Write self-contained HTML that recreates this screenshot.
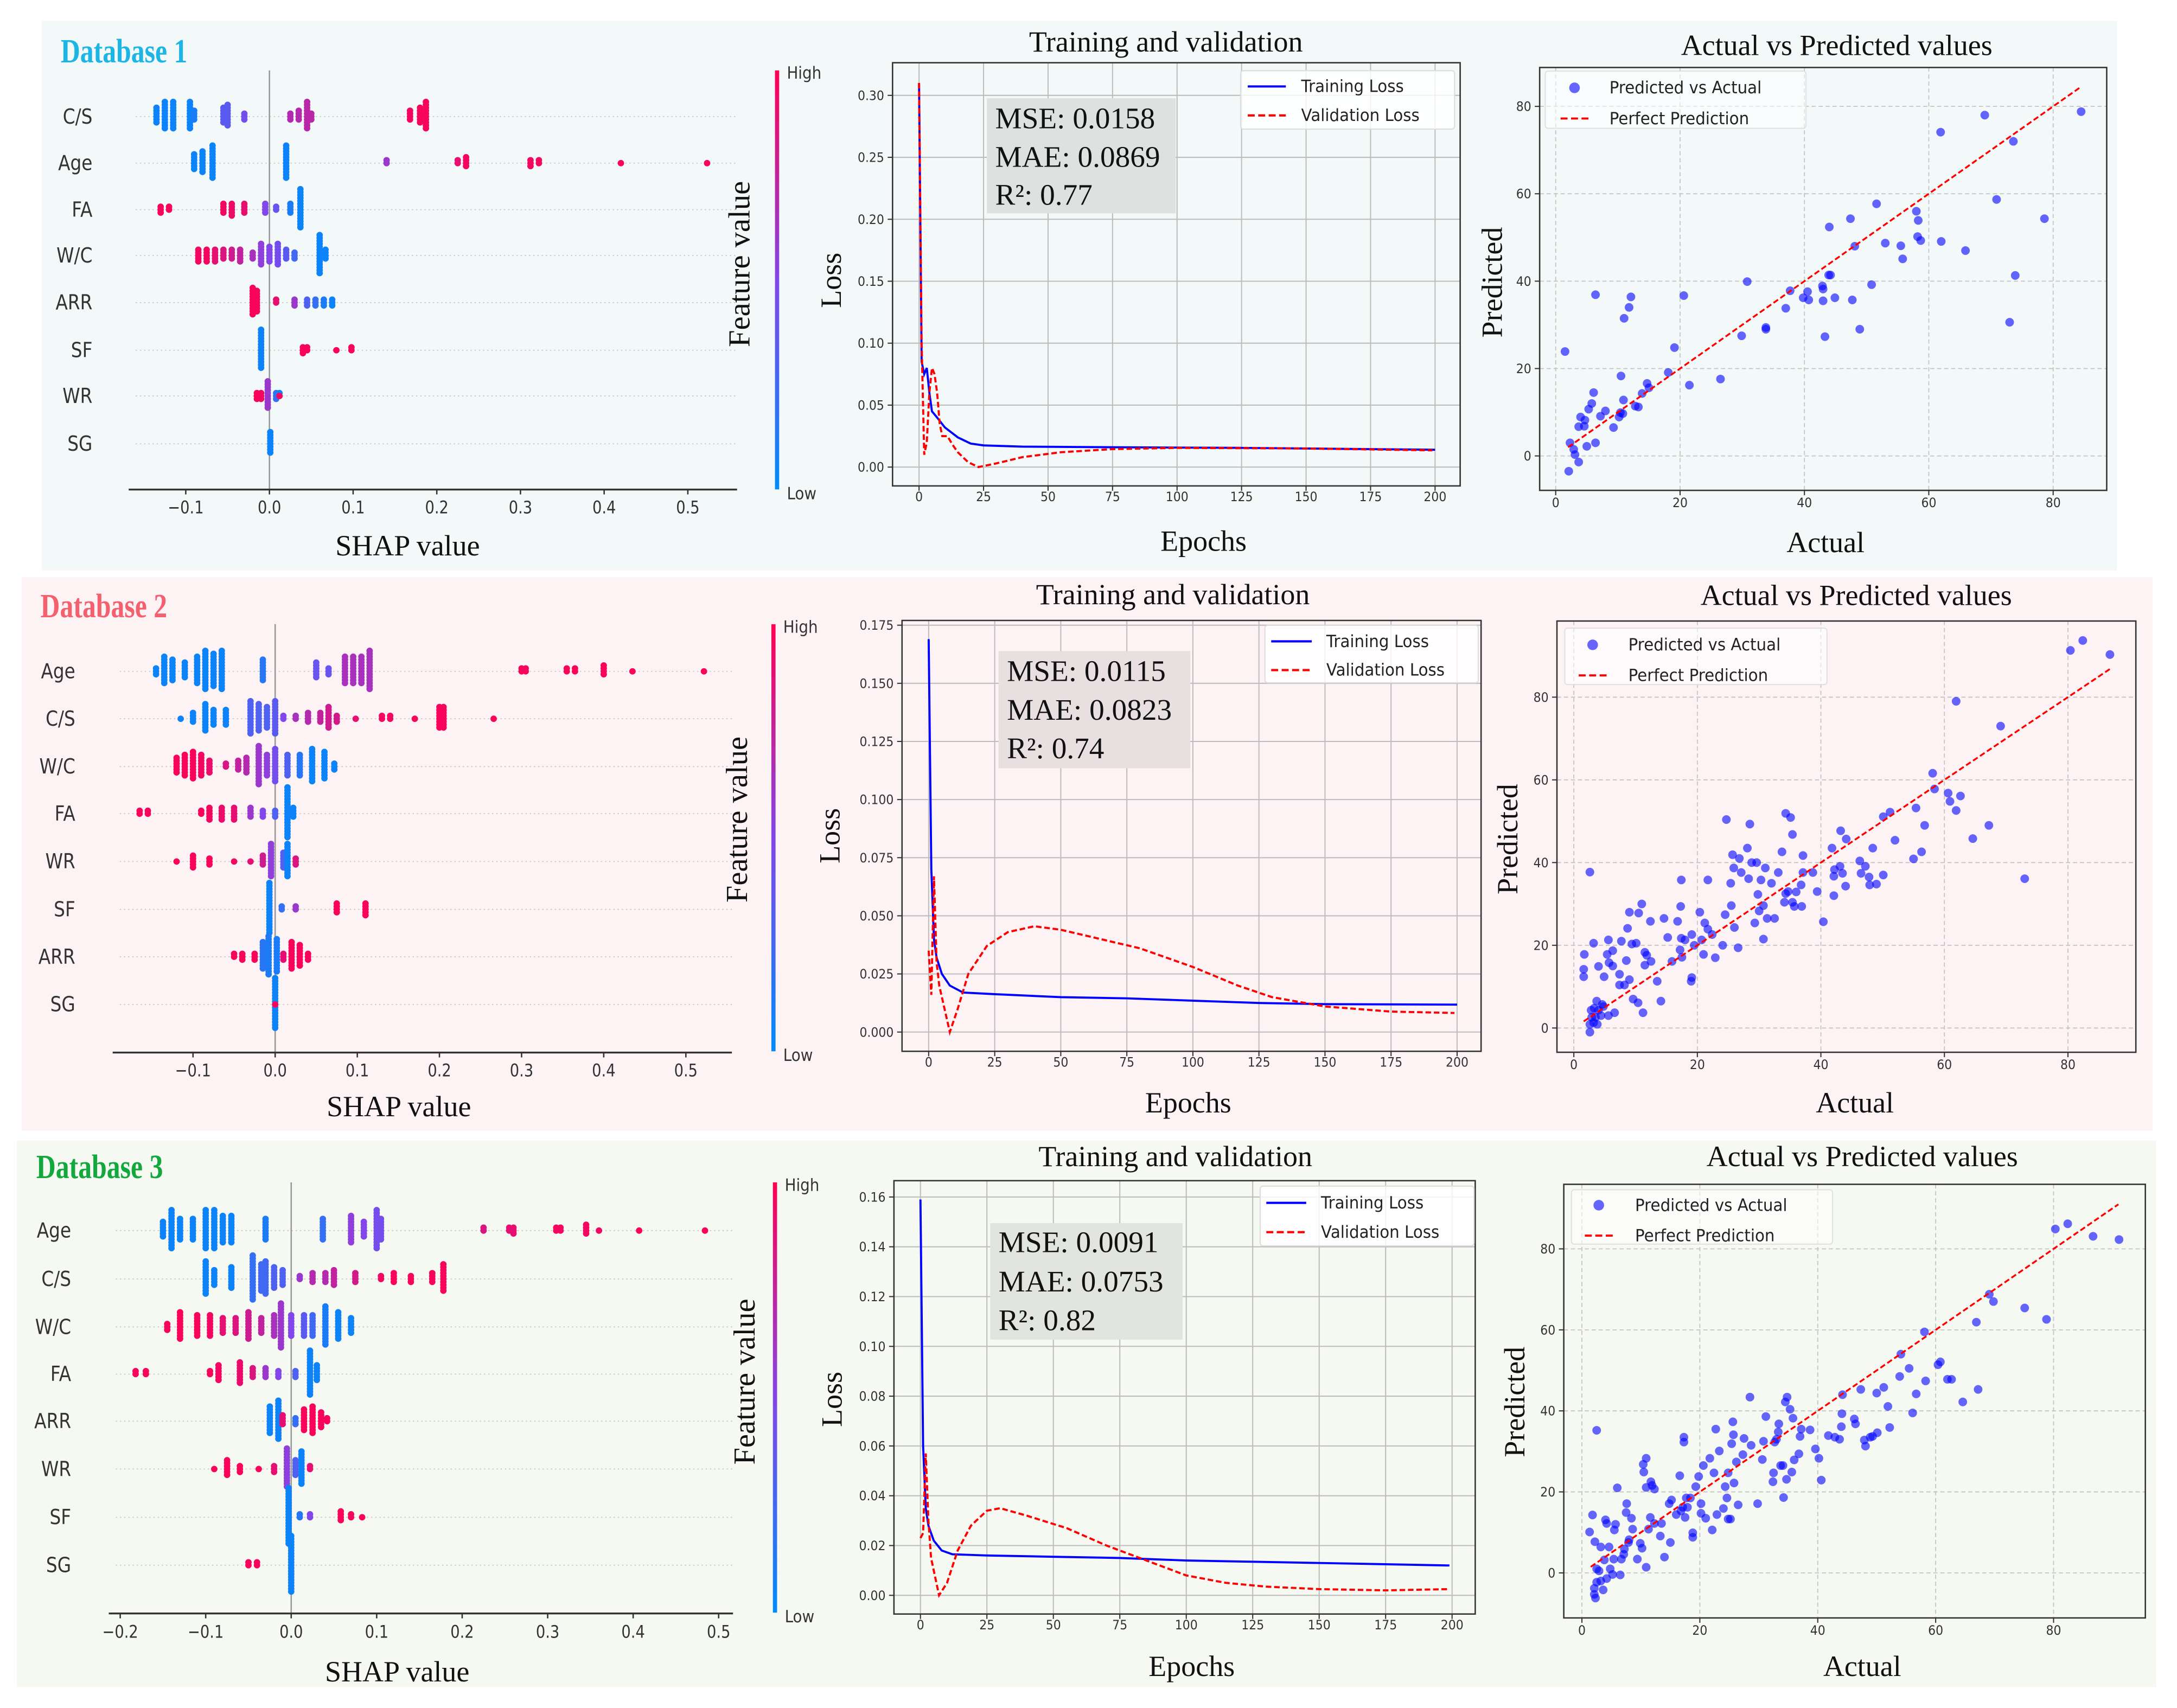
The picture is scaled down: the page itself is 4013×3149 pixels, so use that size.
<!DOCTYPE html>
<html><head><meta charset="utf-8">
<style>
html,body{margin:0;padding:0;background:#fff;}
svg{display:block;}
</style></head>
<body>
<svg id="fig" xmlns="http://www.w3.org/2000/svg" width="4013" height="3149" viewBox="0 0 1561 1225" preserveAspectRatio="none">
<defs>
<linearGradient id="cbgrad" x1="0" y1="1" x2="0" y2="0">
<stop offset="0" stop-color="#008bfb"/><stop offset="0.5" stop-color="#8246e6"/><stop offset="1" stop-color="#ff0052"/>
</linearGradient>
</defs>
<rect x="30" y="15" width="1488" height="394" fill="#f2f9f8"/>
<rect x="15.5" y="414" width="1528" height="397" fill="#fdf3f5"/>
<rect x="12" y="818" width="1534" height="392" fill="#f5f9f2"/>
</svg>
<script>
// ================= DATA =================
// SHAP groups: [shap value, feature value (0=low..1=high), dot count]
const shapFeat1 = ["C/S","Age","FA","W/C","ARR","SF","WR","SG"];
const shapGroups1 = [
 [[-0.135,0.05,6],[-0.125,0.05,10],[-0.115,0.05,10],[-0.095,0.05,10],[-0.09,0.1,4],[-0.055,0.35,6],[-0.05,0.35,8],[-0.03,0.45,3],[0.025,0.7,3],[0.035,0.7,4],[0.045,0.72,10],[0.05,0.72,3],[0.168,0.95,4],[0.18,0.97,6],[0.187,0.97,10]],
 [[-0.09,0.05,6],[-0.08,0.05,8],[-0.068,0.05,12],[0.02,0.05,12],[0.14,0.6,2],[0.225,0.9,2],[0.235,0.95,4],[0.312,0.95,3],[0.322,0.95,2],[0.42,0.97,1],[0.523,0.97,1]],
 [[-0.13,0.97,3],[-0.12,0.97,2],[-0.055,0.95,4],[-0.045,0.93,5],[-0.03,0.9,4],[-0.005,0.5,4],[0.008,0.4,2],[0.025,0.1,4],[0.037,0.05,14]],
 [[-0.085,0.95,5],[-0.075,0.95,5],[-0.065,0.9,5],[-0.055,0.85,4],[-0.045,0.8,4],[-0.035,0.75,5],[-0.02,0.65,3],[-0.01,0.55,8],[0.0,0.5,6],[0.01,0.45,8],[0.02,0.35,4],[0.03,0.25,3],[0.06,0.05,14],[0.067,0.05,4]],
 [[-0.02,0.97,10],[-0.015,0.97,8],[0.008,0.9,2],[0.03,0.6,3],[0.045,0.3,3],[0.055,0.2,3],[0.065,0.1,3],[0.075,0.05,3]],
 [[-0.01,0.05,14],[0.04,0.97,3],[0.045,0.97,2],[0.08,0.97,1],[0.098,0.97,2]],
 [[-0.015,0.97,3],[-0.01,0.95,3],[-0.002,0.6,10],[0.008,0.2,3],[0.012,0.05,2],[0.012,0.95,1]],
 [[0.001,0.05,8]]
];
const shapFeat2 = ["Age","C/S","W/C","FA","WR","SF","ARR","SG"];
const shapGroups2 = [
 [[-0.145,0.05,3],[-0.135,0.05,10],[-0.125,0.05,8],[-0.11,0.05,6],[-0.095,0.05,10],[-0.085,0.05,14],[-0.075,0.05,12],[-0.065,0.05,14],[-0.015,0.15,8],[0.05,0.4,6],[0.065,0.4,3],[0.085,0.65,10],[0.095,0.65,10],[0.105,0.65,10],[0.115,0.65,14],[0.3,0.97,2],[0.305,0.97,2],[0.355,0.97,2],[0.365,0.97,2],[0.4,0.97,4],[0.435,0.97,1],[0.522,0.97,1]],
 [[-0.115,0.05,1],[-0.1,0.05,4],[-0.085,0.05,10],[-0.075,0.05,6],[-0.06,0.05,6],[-0.03,0.3,12],[-0.02,0.3,10],[-0.01,0.3,8],[0.0,0.35,12],[0.01,0.5,2],[0.025,0.65,2],[0.04,0.7,4],[0.055,0.75,4],[0.065,0.8,8],[0.075,0.82,3],[0.098,0.9,1],[0.13,0.95,2],[0.14,0.95,2],[0.17,0.97,1],[0.2,0.97,8],[0.205,0.97,8],[0.266,0.97,1]],
 [[-0.12,0.97,6],[-0.11,0.97,8],[-0.1,0.97,10],[-0.09,0.95,8],[-0.08,0.92,5],[-0.06,0.85,2],[-0.045,0.75,4],[-0.035,0.7,6],[-0.02,0.6,14],[-0.01,0.55,8],[0.0,0.45,12],[0.015,0.3,8],[0.03,0.15,8],[0.045,0.05,12],[0.06,0.05,10],[0.072,0.05,3]],
 [[-0.165,0.97,2],[-0.155,0.97,2],[-0.09,0.97,2],[-0.08,0.95,5],[-0.065,0.92,5],[-0.05,0.9,5],[-0.03,0.6,4],[-0.015,0.5,3],[0.0,0.3,3],[0.015,0.05,18],[0.022,0.05,4]],
 [[-0.12,0.97,1],[-0.1,0.97,5],[-0.08,0.97,3],[-0.05,0.95,1],[-0.03,0.9,1],[-0.015,0.8,4],[-0.005,0.55,12],[0.01,0.3,6],[0.015,0.05,12],[0.025,0.85,3]],
 [[-0.007,0.05,18],[0.008,0.2,2],[0.025,0.6,2],[0.075,0.97,4],[0.11,0.97,5]],
 [[-0.05,0.97,2],[-0.04,0.97,3],[-0.025,0.97,3],[-0.015,0.15,10],[-0.008,0.1,14],[0.002,0.1,12],[0.01,0.9,3],[0.02,0.97,10],[0.03,0.97,8],[0.04,0.97,3]],
 [[0.0,0.05,18],[0.0,0.97,1]]
];
const shapFeat3 = ["Age","C/S","W/C","FA","ARR","WR","SF","SG"];
const shapGroups3 = [
 [[-0.15,0.05,6],[-0.14,0.05,14],[-0.13,0.05,8],[-0.115,0.05,8],[-0.1,0.05,14],[-0.09,0.05,14],[-0.08,0.05,10],[-0.07,0.05,10],[-0.03,0.1,8],[0.037,0.2,8],[0.07,0.55,10],[0.085,0.5,6],[0.1,0.45,14],[0.105,0.45,8],[0.225,0.85,2],[0.255,0.9,2],[0.26,0.9,3],[0.31,0.95,2],[0.315,0.95,2],[0.345,0.95,4],[0.36,0.95,1],[0.407,0.97,1],[0.484,0.97,1]],
 [[-0.1,0.05,12],[-0.09,0.05,6],[-0.07,0.05,8],[-0.045,0.2,16],[-0.035,0.25,10],[-0.03,0.25,12],[-0.02,0.3,8],[-0.01,0.3,6],[0.01,0.6,2],[0.025,0.7,4],[0.04,0.7,4],[0.05,0.75,6],[0.075,0.82,4],[0.105,0.95,2],[0.12,0.97,4],[0.14,0.97,3],[0.165,0.97,4],[0.178,0.97,10]],
 [[-0.145,0.97,3],[-0.13,0.97,10],[-0.11,0.97,8],[-0.095,0.95,8],[-0.08,0.9,6],[-0.065,0.85,6],[-0.05,0.8,10],[-0.035,0.75,6],[-0.02,0.65,8],[-0.012,0.6,16],[0.0,0.5,8],[0.015,0.35,8],[0.025,0.25,8],[0.04,0.1,14],[0.055,0.05,10],[0.07,0.05,6]],
 [[-0.182,0.97,2],[-0.17,0.97,2],[-0.095,0.97,2],[-0.085,0.95,6],[-0.06,0.92,8],[-0.045,0.85,4],[-0.03,0.6,4],[-0.015,0.5,3],[0.005,0.3,3],[0.022,0.05,16],[0.03,0.05,6]],
 [[-0.025,0.05,10],[-0.015,0.05,14],[-0.01,0.9,4],[0.005,0.2,3],[0.015,0.97,8],[0.025,0.97,10],[0.035,0.97,6],[0.042,0.97,2]],
 [[-0.09,0.97,1],[-0.075,0.97,6],[-0.06,0.97,3],[-0.038,0.97,1],[-0.02,0.9,3],[-0.005,0.55,14],[0.005,0.3,6],[0.012,0.05,12],[0.022,0.9,2]],
 [[-0.003,0.05,20],[0.01,0.15,2],[0.022,0.5,2],[0.058,0.97,4],[0.07,0.97,2],[0.083,0.97,1]],
 [[-0.05,0.97,2],[-0.04,0.97,2],[0.0,0.05,20]]
];
const shapTicks1 = [-0.1,0,0.1,0.2,0.3,0.4,0.5];
const shapTicks2 = [-0.1,0,0.1,0.2,0.3,0.4,0.5];
const shapTicks3 = [-0.2,-0.1,0,0.1,0.2,0.3,0.4,0.5];

// Loss curves
const trainEp1 = [0,1,2,3,4,5,7,10,15,20,25,40,75,125,200];
const trainLoss1 = [0.31,0.085,0.075,0.08,0.06,0.045,0.04,0.032,0.024,0.019,0.0175,0.0165,0.016,0.0155,0.014];
const valEp1 = [0,1,2,3,4,5,6,7,8,9,11,13,15,19,23,30,40,55,75,100,150,199];
const valLoss1 = [0.31,0.1,0.01,0.02,0.06,0.08,0.075,0.06,0.035,0.025,0.025,0.018,0.012,0.004,0.0,0.003,0.008,0.012,0.0145,0.0155,0.015,0.0135];
const trainEp2 = [0,1,2,3,5,8,13,25,50,75,100,125,150,200];
const trainLoss2 = [0.169,0.07,0.04,0.032,0.025,0.02,0.017,0.0163,0.015,0.0145,0.0135,0.0125,0.012,0.0118];
const valEp2 = [0,1,2,3,4,6,8,11,15,22,30,40,50,65,80,100,117,130,150,175,199];
const valLoss2 = [0.035,0.016,0.067,0.03,0.02,0.01,0.0,0.01,0.025,0.037,0.043,0.0455,0.044,0.04,0.036,0.028,0.02,0.015,0.011,0.0088,0.0082];
const trainEp3 = [0,1,2,3,5,8,12,25,50,75,100,125,150,199];
const trainLoss3 = [0.159,0.06,0.035,0.028,0.022,0.018,0.0165,0.016,0.0155,0.015,0.014,0.0135,0.013,0.012];
const valEp3 = [0,1,2,3,4,6,7,10,14,19,25,30,40,55,70,85,100,115,130,150,175,199];
const valLoss3 = [0.023,0.025,0.057,0.03,0.015,0.005,0.0,0.005,0.018,0.028,0.034,0.035,0.032,0.027,0.02,0.014,0.008,0.005,0.0035,0.0025,0.002,0.0025];
const epochTicks = [0,25,50,75,100,125,150,175,200];
const lossTicks1 = [0,0.05,0.10,0.15,0.20,0.25,0.30];
const lossTicks2 = [0,0.025,0.05,0.075,0.1,0.125,0.15,0.175];
const lossTicks3 = [0,0.02,0.04,0.06,0.08,0.10,0.12,0.14,0.16];
const metrics1 = ["MSE: 0.0158","MAE: 0.0869","R²: 0.77"];
const metrics2 = ["MSE: 0.0115","MAE: 0.0823","R²: 0.74"];
const metrics3 = ["MSE: 0.0091","MAE: 0.0753","R²: 0.82"];

// Actual vs predicted
const actual1 = [1.5,6.4,12.1,11.8,11.0,20.6,30.8,19.1,10.5,18.1,21.5,26.5,29.9,33.8,33.8,37.0,37.7,39.8,40.5,40.7,42.9,43.0,43.0,43.3,43.9,44.2,44.0,44.9,47.4,47.7,48.1,48.9,50.8,51.6,53.0,55.5,55.8,58.0,58.3,58.2,58.7,61.9,62.0,65.9,69.0,70.9,73.6,73.9,73.0,78.6,84.5,2.1,2.3,2.9,3.1,3.7,3.7,4.0,4.6,4.7,5.0,5.3,5.8,6.1,6.4,7.2,8.0,9.3,10.2,10.4,10.8,10.9,12.8,13.3,13.9,14.7,15.0];
const pred1 = [23.9,36.9,36.4,34.0,31.5,36.7,39.9,24.8,18.3,19.1,16.2,17.6,27.5,29.4,29.0,33.8,37.8,36.2,37.6,35.7,38.9,38.2,35.5,27.3,41.4,41.4,52.4,36.2,54.3,35.7,48.0,29.0,39.2,57.7,48.7,48.1,45.1,56.0,53.9,50.2,49.3,74.1,49.1,47.0,78.0,58.7,72.0,41.3,30.6,54.3,78.8,-3.5,3.0,1.5,0.3,-1.4,6.7,8.9,6.8,8.2,2.2,10.7,12.0,14.5,3.0,9.1,10.3,6.5,8.9,9.9,9.7,12.8,11.4,11.2,14.3,16.6,15.6];
const actual2 = [2.6,1.7,1.6,1.6,3.2,4.0,4.9,5.4,5.6,5.7,6.3,6.3,7.4,7.7,7.4,8.2,8.5,8.7,9.0,9.0,9.4,9.6,10.1,10.5,10.4,11.0,11.2,11.5,11.5,11.8,12.4,12.5,13.5,14.1,14.6,15.2,15.9,16.8,17.3,17.4,17.2,17.5,17.4,18.0,19.1,19.1,19.0,19.5,20.4,20.7,21.2,21.0,21.7,21.7,22.4,22.9,24.1,24.5,24.7,25.4,25.5,25.7,26.0,25.9,26.6,26.8,27.1,28.1,28.3,28.5,28.8,29.3,29.6,29.8,30.0,30.3,30.7,30.7,31.0,31.3,32.0,32.5,33.1,33.7,34.1,34.3,34.3,34.7,35.1,35.4,35.4,35.7,36.0,36.8,36.9,37.1,37.1,38.7,39.4,40.4,41.8,42.1,42.2,42.1,43.1,43.2,43.5,44.0,44.1,46.3,46.5,47.2,47.8,47.9,48.4,49.0,50.1,50.1,51.2,52.0,55.0,55.4,56.3,56.8,58.1,58.4,60.6,60.9,61.9,62.6,61.9,64.6,67.2,69.1,73.0,80.4,82.4,86.8,2.6,2.6,2.9,3.3,3.7,4.0,4.4,4.6,4.8,3.8,3.5,5.6,6.6,2.8,3.2];
const pred2 = [37.7,17.8,14.2,12.4,20.5,14.9,12.4,17.8,21.3,15.8,18.7,15.0,13.0,21.0,10.4,10.4,16.3,24.1,28.0,11.7,20.3,7.0,20.5,27.8,6.1,30.0,3.7,18.3,15.2,17.6,25.8,16.1,11.3,6.5,26.5,21.9,16.1,25.8,29.4,35.8,18.9,17.1,21.7,21.3,22.6,12.2,11.3,20.0,28.0,21.3,25.4,17.8,23.9,35.8,22.6,17.0,20.0,27.4,50.4,35.0,29.6,41.9,24.3,38.7,19.4,41.0,37.6,43.5,36.1,49.3,40.0,25.4,40.0,32.3,28.3,35.8,21.5,29.6,38.7,26.5,35.0,26.5,37.6,42.6,30.4,32.5,51.9,33.0,50.9,46.8,30.4,29.4,32.9,34.6,29.4,41.7,37.6,37.6,33.0,25.7,43.5,32.0,38.3,36.7,39.1,47.7,37.4,34.3,45.7,40.4,37.4,39.1,36.5,34.6,43.5,34.8,37.0,51.1,52.2,45.4,40.9,53.2,42.6,49.0,61.6,57.8,56.8,54.8,52.6,56.1,79.0,45.8,49.0,73.0,36.1,91.3,93.7,90.3,-1.0,0.9,2.6,4.8,6.5,4.3,3.0,5.7,5.2,0.9,2.6,3.0,3.7,4.3,1.3];
const actual3 = [2.5,1.8,1.3,2.2,3.2,2.5,2.9,2.1,2.5,3.2,3.6,2.3,2.1,3.8,4.2,4.0,4.2,4.6,4.8,5.2,5.4,5.5,5.7,6.0,6.5,6.7,7.1,7.2,7.5,7.6,7.9,8.0,8.4,8.6,9.4,9.9,10.2,10.4,10.5,10.9,10.9,10.9,11.3,11.6,11.7,11.9,12.3,12.3,13.5,13.3,14.0,15.0,14.8,15.2,16.0,16.6,16.8,17.1,17.3,17.3,17.5,17.7,17.9,18.4,18.8,18.8,19.3,19.8,20.2,20.2,20.6,21.0,21.7,22.1,22.4,22.7,22.9,23.3,24.0,24.3,24.6,24.8,25.2,24.8,25.4,25.6,25.7,25.8,26.2,26.5,27.3,27.5,28.5,28.7,29.8,30.6,30.8,31.2,32.4,32.5,32.7,33.0,33.3,33.4,33.7,34.1,34.2,34.5,34.7,34.8,35.3,35.6,35.8,36.0,36.8,37.0,37.2,38.7,39.6,40.2,40.6,41.8,42.9,43.7,44.0,44.1,44.2,46.2,46.4,47.3,47.9,48.1,48.9,49.3,50.0,50.1,51.2,51.9,52.2,53.9,54.1,55.5,56.1,56.7,58.1,58.3,60.4,60.8,62.0,62.7,64.6,66.9,67.2,69.1,69.8,75.1,78.8,80.3,82.4,86.7,91.1];
const pred3 = [35.2,14.3,10.1,7.7,6.4,1.0,0.5,-3.8,-2.3,-2.0,-4.2,-6.2,-5.3,3.2,-1.4,13.1,12.2,6.4,1.0,-0.4,3.4,10.6,12.0,21.0,-0.5,3.4,4.6,5.9,14.9,17.1,7.5,8.2,13.5,10.8,3.4,7.3,6.1,26.8,24.9,28.3,21.1,1.4,10.8,13.7,22.5,21.6,20.7,12.2,12.2,9.1,3.9,7.5,17.1,18.0,14.4,24.0,15.3,16.2,32.3,33.5,13.7,18.5,16.2,18.5,9.9,8.8,21.3,23.8,17.1,14.7,26.5,13.5,28.3,10.6,24.7,35.5,14.4,30.1,15.9,21.3,18.5,13.3,13.3,24.7,31.9,37.3,34.1,22.2,27.4,16.8,29.2,33.2,43.4,31.5,17.1,28.0,32.5,38.6,22.5,24.7,32.3,33.0,34.8,36.8,26.5,26.5,18.6,42.2,23.1,43.4,40.4,24.9,38.2,27.9,29.4,33.7,35.5,35.3,30.6,28.3,22.9,33.9,33.5,33.0,36.1,39.3,44.0,38.0,36.8,45.3,32.8,31.3,33.5,33.7,44.4,34.6,45.8,41.1,35.9,48.5,54.0,50.5,39.5,44.2,59.5,47.4,51.4,52.1,47.8,47.8,42.2,61.9,45.3,68.8,67.0,65.4,62.6,84.9,86.2,83.1,82.3];
const scatterTicks = [0,20,40,60,80];
const perfectRange1 = [2,84.5];
const perfectRange2 = [1.6,86.8];
const perfectRange3 = [1.5,91];

// ================= RENDER =================
const NS = 'http://www.w3.org/2000/svg';
const svg = document.getElementById('fig');
function mk(tag, attrs, name, parent) {
  const el = document.createElementNS(NS, tag);
  for (const k in attrs) el.setAttribute(k, attrs[k]);
  
  
  (parent || svg).appendChild(el);
  return el;
}
function txt(x, y, s, o, name, parent) {
  o = o || {};
  let tf = 'translate(' + x + ',' + y + ')';
  if (o.rot) tf += ' rotate(' + o.rot + ')';
  if (o.sx) tf += ' scale(' + o.sx + ',' + (o.sy || 1) + ')';
  const el = mk('text', {
    x: 0, y: 0, transform: tf,
    'font-family': o.serif ? '"Liberation Serif", serif' : '"DejaVu Sans", "Liberation Sans", sans-serif',
    'font-size': o.size || 10, fill: o.fill || '#222',
    'text-anchor': o.anchor || 'start', 'font-weight': o.bold ? 'bold' : 'normal'
  }, name, parent);
  el.textContent = s;
  return el;
}
function shapColor(v) {
  const lo = [0, 138, 250], mid = [130, 70, 235], hi = [255, 0, 82];
  let a, b, t;
  if (v < 0.5) { a = lo; b = mid; t = v / 0.5; } else { a = mid; b = hi; t = (v - 0.5) / 0.5; }
  const c = a.map((q, i) => Math.round(q + (b[i] - q) * t));
  return 'rgb(' + c.join(',') + ')';
}

function drawShap(L, feats, groups, ticks) {
  const g = mk('g', {}, L.id + '-shap-plot');
  const sx = v => L.x0 + v * L.ppu;
  txt(L.dbx, L.dby, L.dbTitle, {serif: true, bold: true, size: 22, fill: L.dbColor, sx: 0.88, sy: 1.1}, 'database-title', g);
  feats.forEach((f, i) => {
    mk('line', {x1: L.ax1 + 5, x2: L.ax2, y1: L.rows[i], y2: L.rows[i], stroke: '#c9c9c9', 'stroke-width': 0.7, 'stroke-dasharray': '1 2'}, 'row-guide', g);
    txt(L.labelRight, L.rows[i] + 5, f, {size: 15, sx: 0.85, anchor: 'end', fill: '#333'}, 'feature-label', g);
  });
  mk('line', {x1: sx(0), x2: sx(0), y1: L.zeroTop, y2: L.axisY, stroke: '#999', 'stroke-width': 1}, 'zero-line', g);
  groups.forEach((row, i) => {
    row.forEach(gr => {
      const [v, c, n] = gr;
      for (let k = 0; k < n; k++) {
        const off = (k % 2 === 0 ? 1 : -1) * Math.ceil(k / 2) * 2.1;
        const d = mk('circle', {cx: sx(v), cy: L.rows[i] + off, r: 2.3, fill: shapColor(c)}, 'shap-dot', g);
      }
    });
  });
  mk('line', {x1: L.ax1, x2: L.ax2, y1: L.axisY, y2: L.axisY, stroke: '#333', 'stroke-width': 1.3}, 'x-axis', g);
  ticks.forEach(t => {
    mk('line', {x1: sx(t), x2: sx(t), y1: L.axisY, y2: L.axisY + 3.5, stroke: '#333', 'stroke-width': 1}, 'x-tick', g);
    const lab = (t < 0 ? '\u2212' : '') + Math.abs(t).toFixed(1);
    txt(sx(t), L.tickBase, lab, {size: 12.5, sx: 0.85, anchor: 'middle', fill: '#333'}, 'x-tick-label', g);
  });
  txt(L.stx, L.sty, 'SHAP value', {serif: true, size: 21, anchor: 'middle', fill: '#111'}, 'x-axis-title', g);
  mk('rect', {x: L.cbx - 1.5, y: L.cbTop, width: 3, height: L.cbBot - L.cbTop, fill: 'url(#cbgrad)'}, 'colorbar', g);
  txt(L.cbx + 7, L.cbTop + 6, 'High', {size: 12, sx: 0.9, fill: '#333'}, 'colorbar-high-label', g);
  txt(L.cbx + 7, L.cbBot + 7, 'Low', {size: 12, sx: 0.9, fill: '#333'}, 'colorbar-low-label', g);
  txt(L.fvx + 7, L.fvy, 'Feature value', {serif: true, size: 22, anchor: 'middle', rot: -90, fill: '#111'}, 'colorbar-title', g);
}

function drawLoss(L, trE, trL, vaE, vaL, yTicks, dec, metrics) {
  const g = mk('g', {}, L.id + '-loss-plot');
  const sx = e => L.x0 + (L.x200 - L.x0) * e / 200;
  const sy = v => L.y0 + (L.yT - L.y0) * v / L.yTv;
  txt(L.tx, L.ty, 'Training and validation', {serif: true, size: 21, anchor: 'middle', fill: '#111'}, 'chart-title', g);
  epochTicks.forEach(t => {
    mk('line', {x1: sx(t), x2: sx(t), y1: L.box[2], y2: L.box[3], stroke: '#bdbdbd', 'stroke-width': 0.8}, 'grid-line-x', g);
    mk('line', {x1: sx(t), x2: sx(t), y1: L.box[3], y2: L.box[3] + 3.5, stroke: '#333', 'stroke-width': 0.8}, 'x-tick', g);
    txt(sx(t), L.box[3] + 11, String(t), {size: 9.5, sx: 0.9, anchor: 'middle', fill: '#333'}, 'x-tick-label', g);
  });
  yTicks.forEach(t => {
    mk('line', {x1: L.box[0], x2: L.box[1], y1: sy(t), y2: sy(t), stroke: '#bdbdbd', 'stroke-width': 0.8}, 'grid-line-y', g);
    mk('line', {x1: L.box[0] - 3.5, x2: L.box[0], y1: sy(t), y2: sy(t), stroke: '#333', 'stroke-width': 0.8}, 'y-tick', g);
    txt(L.box[0] - 6, sy(t) + 3.3, t.toFixed(dec), {size: 9.5, sx: 0.9, anchor: 'end', fill: '#333'}, 'y-tick-label', g);
  });
  mk('rect', {x: L.st[0], y: L.st[2], width: L.st[1] - L.st[0], height: L.st[3] - L.st[2], fill: L.stFill}, 'metrics-box', g);
  metrics.forEach((m, i) => txt(L.st[0] + 6, L.stb[i], m, {serif: true, size: 21.5, fill: '#111'}, 'metric-text', g));
  mk('polyline', {points: trE.map((e, i) => sx(e) + ',' + sy(trL[i])).join(' '), fill: 'none', stroke: '#0000ff', 'stroke-width': 1.5}, 'training-loss-line', g);
  mk('polyline', {points: vaE.map((e, i) => sx(e) + ',' + sy(vaL[i])).join(' '), fill: 'none', stroke: '#ff0000', 'stroke-width': 1.5, 'stroke-dasharray': '4 2'}, 'validation-loss-line', g);
  mk('rect', {x: L.box[0], y: L.box[2], width: L.box[1] - L.box[0], height: L.box[3] - L.box[2], fill: 'none', stroke: '#333', 'stroke-width': 1}, 'plot-frame', g);
  const lg = L.lg;
  mk('rect', {x: lg[0], y: lg[2], width: lg[1] - lg[0], height: lg[3] - lg[2], fill: 'rgba(255,255,255,0.8)', stroke: '#dddddd', 'stroke-width': 0.8, rx: 2}, 'legend-box', g);
  mk('line', {x1: L.lx[0], x2: L.lx[1], y1: L.lb[0] - 4, y2: L.lb[0] - 4, stroke: '#0000ff', 'stroke-width': 1.6}, 'legend-training-swatch', g);
  txt(L.lt, L.lb[0], 'Training Loss', {size: 12, sx: 0.95, fill: '#222'}, 'legend-training-label', g);
  mk('line', {x1: L.lx[0], x2: L.lx[1], y1: L.lb[1] - 4, y2: L.lb[1] - 4, stroke: '#ff0000', 'stroke-width': 1.6, 'stroke-dasharray': '5 2.5'}, 'legend-validation-swatch', g);
  txt(L.lt, L.lb[1], 'Validation Loss', {size: 12, sx: 0.95, fill: '#222'}, 'legend-validation-label', g);
  txt(L.ex, L.ey, 'Epochs', {serif: true, size: 21, anchor: 'middle', fill: '#111'}, 'x-axis-title', g);
  txt(L.lsx + 7, L.lsy, 'Loss', {serif: true, size: 21, anchor: 'middle', rot: -90, fill: '#111'}, 'y-axis-title', g);
}

function drawScatter(L, act, pred, range) {
  const g = mk('g', {}, L.id + '-scatter-plot');
  const sx = v => L.x0 + (L.x80 - L.x0) * v / 80;
  const sy = v => L.y0 + (L.y80 - L.y0) * v / 80;
  txt(L.tx, L.ty, 'Actual vs Predicted values', {serif: true, size: 21, anchor: 'middle', fill: '#111'}, 'chart-title', g);
  scatterTicks.forEach(t => {
    mk('line', {x1: sx(t), x2: sx(t), y1: L.box[2], y2: L.box[3], stroke: '#c4c4c4', 'stroke-width': 0.7, 'stroke-dasharray': '3 2'}, 'grid-line-x', g);
    mk('line', {x1: sx(t), x2: sx(t), y1: L.box[3], y2: L.box[3] + 3.5, stroke: '#333', 'stroke-width': 0.8}, 'x-tick', g);
    txt(sx(t), L.box[3] + 12, String(t), {size: 9.5, sx: 0.9, anchor: 'middle', fill: '#333'}, 'x-tick-label', g);
    mk('line', {x1: L.box[0], x2: L.box[1], y1: sy(t), y2: sy(t), stroke: '#c4c4c4', 'stroke-width': 0.7, 'stroke-dasharray': '3 2'}, 'grid-line-y', g);
    mk('line', {x1: L.box[0] - 3.5, x2: L.box[0], y1: sy(t), y2: sy(t), stroke: '#333', 'stroke-width': 0.8}, 'y-tick', g);
    txt(L.box[0] - 6, sy(t) + 3.3, String(t), {size: 9.5, sx: 0.9, anchor: 'end', fill: '#333'}, 'y-tick-label', g);
  });
  act.forEach((a, i) => {
    const d = mk('circle', {cx: sx(a), cy: sy(pred[i]), r: 3.1, fill: '#0000ff', 'fill-opacity': 0.6}, 'scatter-point', g);
  });
  mk('line', {x1: sx(range[0]), y1: sy(range[0]), x2: sx(range[1]), y2: sy(range[1]), stroke: '#ff0000', 'stroke-width': 1.3, 'stroke-dasharray': '4 2'}, 'perfect-prediction-line', g);
  mk('rect', {x: L.box[0], y: L.box[2], width: L.box[1] - L.box[0], height: L.box[3] - L.box[2], fill: 'none', stroke: '#333', 'stroke-width': 1}, 'plot-frame', g);
  const lg = L.lg;
  mk('rect', {x: lg[0], y: lg[2], width: lg[1] - lg[0], height: lg[3] - lg[2], fill: 'rgba(255,255,255,0.55)', stroke: '#e0e0e0', 'stroke-width': 0.8, rx: 2}, 'legend-box', g);
  mk('circle', {cx: L.lm, cy: L.lb[0] - 4, r: 3.8, fill: '#0000ff', 'fill-opacity': 0.6}, 'legend-point-swatch', g);
  txt(L.lt, L.lb[0], 'Predicted vs Actual', {size: 12, sx: 0.95, fill: '#222'}, 'legend-points-label', g);
  mk('line', {x1: L.lm - 10, x2: L.lm + 12, y1: L.lb[1] - 4, y2: L.lb[1] - 4, stroke: '#ff0000', 'stroke-width': 1.5, 'stroke-dasharray': '5 2.5'}, 'legend-line-swatch', g);
  txt(L.lt, L.lb[1], 'Perfect Prediction', {size: 12, sx: 0.95, fill: '#222'}, 'legend-line-label', g);
  txt(L.ax, L.ay, 'Actual', {serif: true, size: 21, anchor: 'middle', fill: '#111'}, 'x-axis-title', g);
  txt(L.px + 7, L.py, 'Predicted', {serif: true, size: 21, anchor: 'middle', rot: -90, fill: '#111'}, 'y-axis-title', g);
}

drawShap({id: 'db1', x0: 193.2, ppu: 600, rows: [83.6,117,150.4,183.3,217,251.2,284,318.3], axisY: 351.1, ax1: 92.3, ax2: 528.5,
  labelRight: 66.3, tickBase: 368.2, zeroTop: 50.5, cbx: 557.2, cbTop: 50.5, cbBot: 351, fvx: 530.4, fvy: 189.4,
  stx: 292.3, sty: 398.4, dbx: 43.5, dby: 44.7, dbTitle: 'Database 1', dbColor: '#1db5e3'}, shapFeat1, shapGroups1, shapTicks1);
drawShap({id: 'db2', x0: 197.3, ppu: 589, rows: [481.5,515.5,549.8,583.6,617.9,652.2,686.2,720.4], axisY: 754.9, ax1: 80.8, ax2: 524.8,
  labelRight: 54, tickBase: 772, zeroTop: 447.6, cbx: 554.6, cbTop: 447.7, cbBot: 754, fvx: 528.6, fvy: 587.8,
  stx: 286, sty: 800.6, dbx: 29, dby: 442.7, dbTitle: 'Database 2', dbColor: '#f2616d'}, shapFeat2, shapGroups2, shapTicks2);
drawShap({id: 'db3', x0: 208.8, ppu: 613, rows: [882.6,917.3,951.7,985.5,1019.3,1053.6,1088.2,1122.6], axisY: 1157.2, ax1: 78, ax2: 525.6,
  labelRight: 51, tickBase: 1174.6, zeroTop: 848, cbx: 555.7, cbTop: 848, cbBot: 1156.6, fvx: 534, fvy: 991,
  stx: 284.8, sty: 1205.9, dbx: 26, dby: 845, dbTitle: 'Database 3', dbColor: '#12a83e'}, shapFeat3, shapGroups3, shapTicks3);

drawLoss({id: 'db1', box: [640,1047,45,348.5], x0: 659, x200: 1029, y0: 335, yT: 68.4, yTv: 0.30, tx: 836, ty: 37,
  st: [707.6,843,70.5,153], stb: [92,119.7,146.8], stFill: '#dde2e0', lg: [889.6,1043,50.7,92.6], lx: [894.7,922], lt: 933, lb: [66,86.8],
  ex: 863, ey: 395, lsx: 596, lsy: 201}, trainEp1, trainLoss1, valEp1, valLoss1, lossTicks1, 2, metrics1);
drawLoss({id: 'db2', box: [646.8,1062,445,754], x0: 665.9, x200: 1044.8, y0: 740.2, yT: 448.4, yTv: 0.175, tx: 841, ty: 433.4,
  st: [716,853.5,467,551], stb: [488.4,516.2,543.9], stFill: '#e7dfe0', lg: [907,1060,448.5,489.7], lx: [911.5,940.6], lt: 951, lb: [464,484.6],
  ex: 852, ey: 797.8, lsx: 595, lsy: 599.4}, trainEp2, trainLoss2, valEp2, valLoss2, lossTicks2, 3, metrics2);
drawLoss({id: 'db3', box: [641,1057.8,846.8,1157.6], x0: 660, x200: 1041.2, y0: 1144.2, yT: 858.5, yTv: 0.16, tx: 842.8, ty: 836.3,
  st: [710,848,877.2,960.8], stb: [898,926.2,954], stFill: '#e1e4df', lg: [903.6,1057,850.7,893.5], lx: [908,936.6], lt: 947.2, lb: [866.7,887.7],
  ex: 854.5, ey: 1202, lsx: 596.5, lsy: 1003.6}, trainEp3, trainLoss3, valEp3, valLoss3, lossTicks3, 2, metrics3);

drawScatter({id: 'db1', box: [1104,1510.6,48.4,351.7], x0: 1115.5, x80: 1472.2, y0: 327, y80: 76.3, tx: 1317, ty: 39.5,
  ax: 1309, ay: 396, px: 1070, py: 202.5, lg: [1108,1295,51,92], lm: 1129, lt: 1154, lb: [67,89]}, actual1, pred1, perfectRange1);
drawScatter({id: 'db2', box: [1116.4,1531.5,445.4,754.7], x0: 1128.5, x80: 1482.8, y0: 737.3, y80: 500, tx: 1331, ty: 434,
  ax: 1330, ay: 797.8, px: 1081, py: 601.8, lg: [1122,1310,450.5,491], lm: 1142, lt: 1167.6, lb: [466.5,488.4]}, actual2, pred2, perfectRange2);
drawScatter({id: 'db3', box: [1121.3,1538.3,849.4,1160.4], x0: 1134.3, x80: 1472.5, y0: 1128.1, y80: 895.7, tx: 1335.3, ty: 836.3,
  ax: 1335.3, ay: 1202, px: 1086, py: 1005.5, lg: [1126.8,1314,853.3,892.3], lm: 1146.4, lt: 1172.4, lb: [868.4,890.2]}, actual3, pred3, perfectRange3);
</script>
</body></html>
